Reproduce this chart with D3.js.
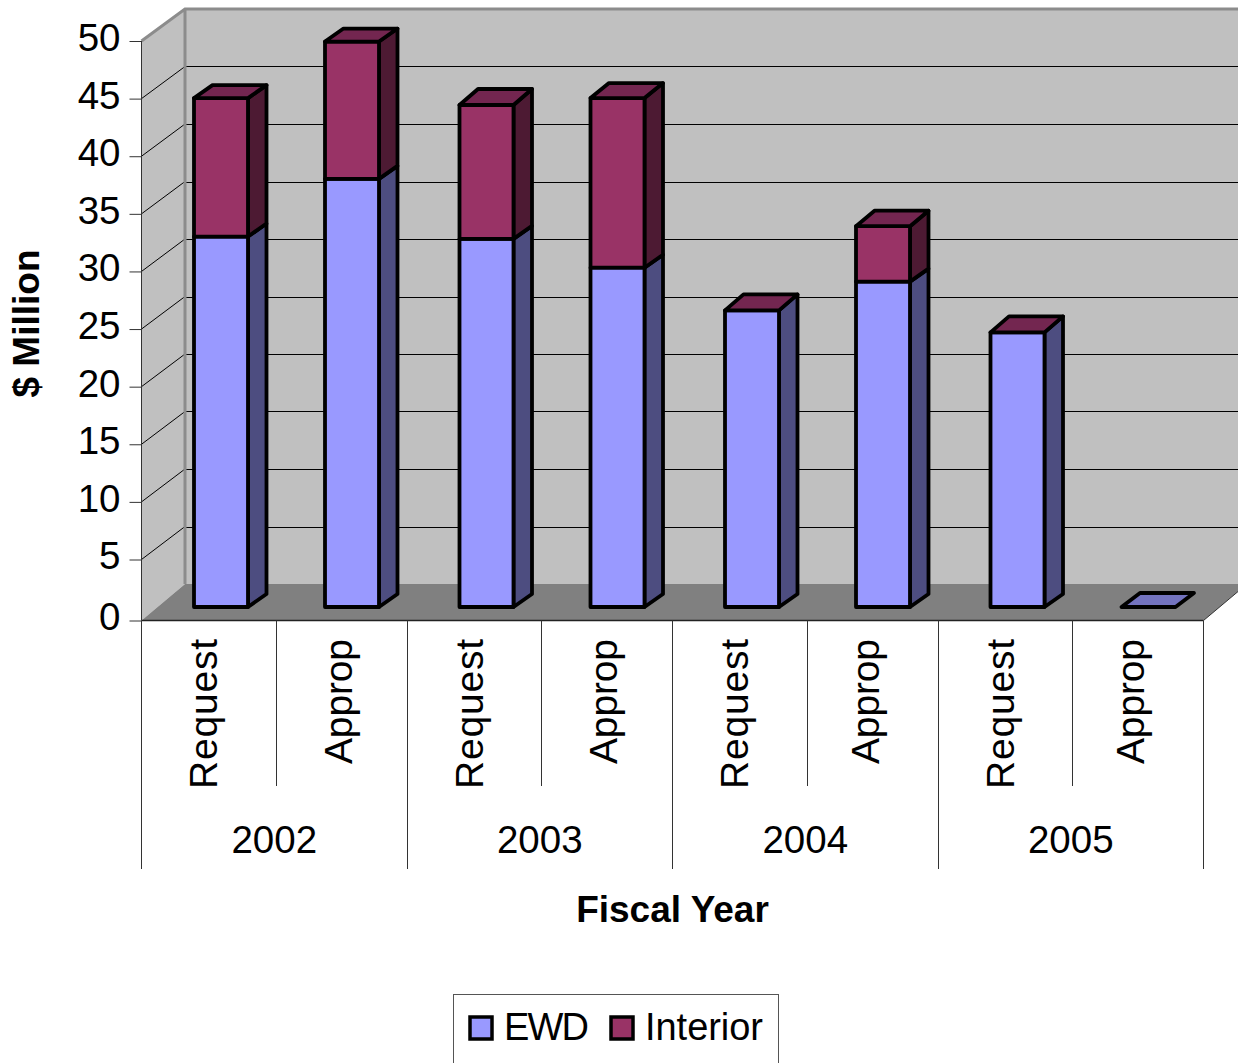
<!DOCTYPE html>
<html>
<head>
<meta charset="utf-8">
<title>Funding by fiscal year</title>
<script src="https://cdn.jsdelivr.net/npm/d3@7/dist/d3.min.js"></script>
<style>
html,body{margin:0;padding:0;background:#fff;overflow:hidden}
svg{display:block}
text{font-family:"Liberation Sans",Arial,sans-serif;fill:#000}
</style>
</head>
<body>
<svg id="chart" width="1238" height="1063"></svg>
<script>
// Budget figures in $ million, one entry per request/appropriation column.
const years = ["2002", "2003", "2004", "2005"];
const stages = ["Request", "Approp"];
const ewd = [32.1, 37.1, 31.9, 29.4, 25.7, 28.2, 23.8, 0];
const interior = [12.0, 11.9, 11.6, 14.7, 0, 4.8, 0, 0];
const yTicks = [0, 5, 10, 15, 20, 25, 30, 35, 40, 45, 50];
const seriesNames = ["EWD", "Interior"];

const W = 1238, H = 1063;
const svg = d3.select("#chart");

const colours = {
  EWD: {front: "#9999ff", side: "#4d4d80", top: "#7373bf"},
  Interior: {front: "#993366", side: "#4d1a33", top: "#732650"}
};

// Oblique projection of the plot box: the wall sits up and to the right of the front plane.
const plotLeft = 141.5, plotRight = 1203.5, plotBase = 620.5, plotTop = 41;
const wallDx = 43.5, wallDy = -36.5, wallTop = 9;
const columns = d3.range(years.length * stages.length);
const yearX = d3.scaleBand().domain(years).range([plotLeft, plotRight]);
const stageSplit = d3.scaleOrdinal().domain(stages).range([0, 134.5]);
const barOffset = d3.scaleOrdinal().domain(stages).range([52.5, 183.5]);
const labelLength = d3.scaleOrdinal().domain(stages).range([150, 125]);
// Baseline offset of each rotated column label within its year group.
const labelBaseline = (yr, st) => st === "Request" ? 75.5 : (yr < "2004" ? 210 : 206);
// The front axis has a slightly longer first interval where it meets the floor.
const y = d3.scaleLinear().domain([0, 5, 50]).range([plotBase, 559.5, plotTop]);
const wallY = d3.scaleLinear().domain([0, 50]).range([plotBase + wallDy, wallTop]);
const yearOf = i => years[Math.floor(i / stages.length)];
const stageOf = i => stages[i % stages.length];

// Bars stand part-way into the box, so they use their own baseline and offset.
const barW = 54, depthX = 18.5, depthY = -13, barBase = 607;
const barY = d3.scaleLinear().domain([0, 50]).range([barBase, barBase - 577]);
const capRise = [13, 13, 16, 15, 16, 15.5, 16, 14];

// Walls and floor
const poly = pts => pts.map(p => p.join(",")).join(" ");
svg.append("polygon").attr("fill", "#c0c0c0")
  .attr("points", poly([[plotLeft + wallDx, wallTop], [W + 20, wallTop], [W + 20, plotBase + wallDy], [plotLeft + wallDx, plotBase + wallDy]]));
svg.append("polygon").attr("fill", "#c0c0c0")
  .attr("points", poly([[plotLeft, plotTop], [plotLeft + wallDx, wallTop], [plotLeft + wallDx, plotBase + wallDy], [plotLeft, plotBase]]));

// Gridlines run across the side wall and along the back wall.
const grid = svg.append("g").attr("stroke", "#000").attr("stroke-width", 1).attr("fill", "none");
yTicks.slice(1, -1).forEach(t => {
  grid.append("line").attr("x1", plotLeft).attr("y1", y(t)).attr("x2", plotLeft + wallDx).attr("y2", wallY(t));
  grid.append("line").attr("x1", plotLeft + wallDx).attr("y1", Math.round(wallY(t)) + 0.5).attr("x2", W).attr("y2", Math.round(wallY(t)) + 0.5);
});

svg.append("polygon").attr("fill", "#808080")
  .attr("points", poly([[plotLeft, plotBase], [plotRight, plotBase], [plotRight + wallDx, plotBase + wallDy], [plotLeft + wallDx, plotBase + wallDy]]));

// Wall edges
svg.append("path").attr("fill", "none").attr("stroke", "#8c8c8c").attr("stroke-width", 3)
  .attr("d", `M${plotLeft},${plotTop}L${plotLeft + wallDx},${wallTop}L${W + 2},${wallTop}M${plotLeft + wallDx},${wallTop}V${plotBase + wallDy}`);
svg.append("line").attr("stroke", "#333").attr("x1", plotRight).attr("y1", plotBase).attr("x2", plotRight + wallDx).attr("y2", plotBase + wallDy);

// Stacked bars drawn as front, side and top faces.
const barsLayer = svg.append("g").attr("stroke", "#000").attr("stroke-width", 3.8).attr("stroke-linejoin", "round");
columns.forEach(i => {
  const x0 = yearX(yearOf(i)) + barOffset(stageOf(i)), x1 = x0 + barW;
  const total = ewd[i] + interior[i];
  const rise = capRise[i];
  const segs = [
    {name: "EWD", from: 0, to: ewd[i]},
    {name: "Interior", from: ewd[i], to: total}
  ].filter(s => s.to > s.from);
  segs.forEach(s => {
    const c = colours[s.name], yb = barY(s.from), yt = barY(s.to);
    const backTop = s.to === total ? yt - rise : yt + depthY;
    barsLayer.append("polygon").attr("fill", c.side)
      .attr("points", poly([[x1, yb], [x1 + depthX, yb + depthY], [x1 + depthX, backTop], [x1, yt]]));
    barsLayer.append("polygon").attr("fill", c.front)
      .attr("points", poly([[x0, yb], [x1, yb], [x1, yt], [x0, yt]]));
  });
  const yt = barY(total);
  barsLayer.append("polygon").attr("fill", colours[total > 0 ? "Interior" : "EWD"].top)
    .attr("points", poly([[x0, yt], [x1, yt], [x1 + depthX, yt - rise], [x0 + depthX, yt - rise]]));
});

// Value axis
const axisG = svg.append("g").attr("transform", `translate(${plotLeft},0)`)
  .call(d3.axisLeft(y).tickValues(yTicks).tickSize(12).tickPadding(9));
axisG.selectAll("text").attr("font-size", 38.5).attr("font-family", "Liberation Sans").attr("dy", "0.245em");
axisG.selectAll("line").attr("stroke", "#333");
axisG.select(".domain").attr("stroke", "#333").attr("d", `M0,${plotTop}V${plotBase}`);

// Two-level category axis below the floor
const catLines = svg.append("g").attr("stroke", "#333").attr("stroke-width", 1);
catLines.append("line").attr("x1", plotLeft).attr("x2", plotRight).attr("y1", plotBase).attr("y2", plotBase).attr("stroke", "#222").attr("stroke-width", 1.5);
years.forEach(yr => {
  const x0 = Math.floor(yearX(yr)) + 0.5;
  const xMid = Math.floor(yearX(yr) + stageSplit("Approp")) + 0.5;
  catLines.append("line").attr("x1", x0).attr("x2", x0).attr("y1", plotBase).attr("y2", 869);
  catLines.append("line").attr("x1", xMid).attr("x2", xMid).attr("y1", plotBase).attr("y2", 786);
  stages.forEach(st => {
    svg.append("text").attr("font-size", 39).attr("text-anchor", "end")
      .attr("transform", `translate(${yearX(yr) + labelBaseline(yr, st)},639) rotate(-90)`)
      .attr("textLength", labelLength(st)).attr("lengthAdjust", "spacing")
      .text(st);
  });
  svg.append("text").attr("font-size", 38.5).attr("text-anchor", "middle")
    .attr("x", yearX(yr) + yearX.bandwidth() / 2).attr("y", 853).text(yr);
});
catLines.append("line").attr("x1", plotRight).attr("x2", plotRight).attr("y1", plotBase).attr("y2", 869);

// Axis titles
svg.append("text").attr("font-size", 37).attr("font-weight", "bold").attr("text-anchor", "middle")
  .attr("x", 672.5).attr("y", 922).text("Fiscal Year");
svg.append("text").attr("font-size", 37).attr("font-weight", "bold").attr("text-anchor", "middle")
  .attr("transform", "translate(39,323.5) rotate(-90)").text("$ Million");

// Legend
svg.append("rect").attr("x", 453.5).attr("y", 994.5).attr("width", 325).attr("height", 80).attr("fill", "#fff").attr("stroke", "#555");
const legendX = [469, 610], legendText = [504, 645], legendWidth = [85, 118];
seriesNames.forEach((n, i) => {
  svg.append("rect").attr("x", legendX[i] + 1).attr("y", 1017).attr("width", 22).attr("height", 22)
    .attr("fill", colours[n].front).attr("stroke", "#000").attr("stroke-width", 3.5);
  svg.append("text").attr("font-size", 38).attr("x", legendText[i]).attr("y", 1039.5)
    .attr("textLength", legendWidth[i]).attr("lengthAdjust", "spacing").text(n);
});
</script>
</body>
</html>
